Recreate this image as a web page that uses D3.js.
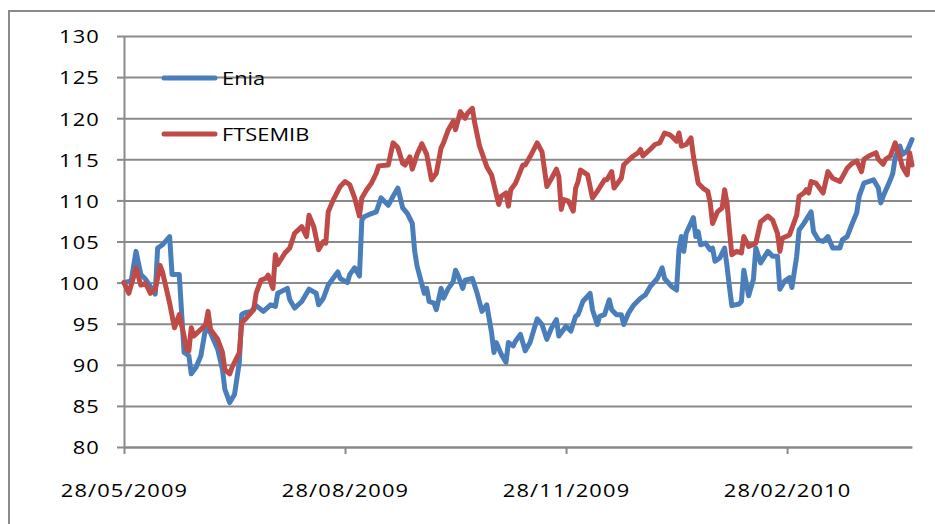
<!DOCTYPE html>
<html lang="en">
<head>
  <meta charset="UTF-8">
  <title>Enia vs FTSEMIB</title>
  <script src="https://d3js.org/d3.v7.min.js"></script>
  <style>
    body { margin: 0; background: #fff; }
    .series { fill: none; stroke-width: 5px; stroke-linejoin: round; stroke-linecap: round; }
    .grid line, .axis path, .axis line { stroke: #8a8a8a; stroke-width: 2px; }
    .grid path { display: none; }
    text { font-family: "Open Sans", sans-serif; fill: #000; }
  </style>
</head>
<body>
  <svg id="chart" width="935" height="524"></svg>

  <script>
    // Series names and colours
    const seriesNames = ["Enia", "FTSEMIB"];
    const seriesColors = ["#4a7ebb", "#be4b48"];

    // Axis ticks
    const yTicks = [80, 85, 90, 95, 100, 105, 110, 115, 120, 125, 130];
    const xTickLabels = ["28/05/2009", "28/08/2009", "28/11/2009", "28/02/2010"];
    const xDomain = ["28/05/2009", "21/04/2010"];

    // Enia
    const eniaDates = [
      "28/05/2009","31/05/2009","02/06/2009","04/06/2009","06/06/2009","08/06/2009","09/06/2009","10/06/2009","11/06/2009","13/06/2009",
      "16/06/2009","17/06/2009","20/06/2009","22/06/2009","24/06/2009","25/06/2009","27/06/2009","29/06/2009","01/07/2009","03/07/2009",
      "06/07/2009","08/07/2009","09/07/2009","11/07/2009","13/07/2009","15/07/2009","16/07/2009","17/07/2009","20/07/2009","22/07/2009",
      "25/07/2009","28/07/2009","30/07/2009","31/07/2009","04/08/2009","05/08/2009","07/08/2009","10/08/2009","13/08/2009","16/08/2009",
      "17/08/2009","19/08/2009","21/08/2009","25/08/2009","26/08/2009","29/08/2009","30/08/2009","01/09/2009","03/09/2009","04/09/2009",
      "05/09/2009","08/09/2009","10/09/2009","12/09/2009","15/09/2009","17/09/2009","19/09/2009","21/09/2009","23/09/2009","25/09/2009",
      "26/09/2009","27/09/2009","30/09/2009","01/10/2009","02/10/2009","04/10/2009","05/10/2009","07/10/2009","08/10/2009","10/10/2009",
      "12/10/2009","13/10/2009","14/10/2009","16/10/2009","17/10/2009","20/10/2009","22/10/2009","24/10/2009","26/10/2009","28/10/2009",
      "29/10/2009","30/10/2009","01/11/2009","03/11/2009","04/11/2009","06/11/2009","07/11/2009","09/11/2009","11/11/2009","13/11/2009",
      "16/11/2009","18/11/2009","20/11/2009","22/11/2009","24/11/2009","25/11/2009","28/11/2009","30/11/2009","02/12/2009","03/12/2009",
      "05/12/2009","08/12/2009","09/12/2009","11/12/2009","12/12/2009","14/12/2009","16/12/2009","17/12/2009","19/12/2009","21/12/2009",
      "22/12/2009","24/12/2009","26/12/2009","29/12/2009","31/12/2009","02/01/2010","05/01/2010","07/01/2010","08/01/2010","11/01/2010",
      "13/01/2010","14/01/2010","15/01/2010","16/01/2010","17/01/2010","20/01/2010","21/01/2010","22/01/2010","23/01/2010","25/01/2010",
      "27/01/2010","28/01/2010","29/01/2010","31/01/2010","02/02/2010","03/02/2010","04/02/2010","05/02/2010","08/02/2010","09/02/2010",
      "10/02/2010","12/02/2010","14/02/2010","15/02/2010","17/02/2010","20/02/2010","22/02/2010","24/02/2010","25/02/2010","27/02/2010",
      "01/03/2010","02/03/2010","04/03/2010","05/03/2010","07/03/2010","10/03/2010","11/03/2010","13/03/2010","15/03/2010","17/03/2010",
      "19/03/2010","22/03/2010","23/03/2010","25/03/2010","27/03/2010","29/03/2010","30/03/2010","01/04/2010","05/04/2010","07/04/2010",
      "08/04/2010","09/04/2010","12/04/2010","13/04/2010","14/04/2010","16/04/2010","17/04/2010","19/04/2010","21/04/2010"
    ];
    const eniaValues = [
      100.0, 100.2, 103.8, 101.0, 100.4, 99.5, 99.2, 98.6, 104.2, 104.6,
      105.6, 101.0, 101.0, 91.5, 91.1, 88.9, 89.7, 91.1, 94.5, 93.9,
      91.9, 89.4, 87.0, 85.4, 86.4, 90.3, 96.1, 96.3, 96.5, 97.2,
      96.5, 97.3, 97.1, 98.7, 99.3, 97.9, 96.9, 97.7, 99.2, 98.7,
      97.3, 98.1, 99.7, 101.3, 100.5, 100.0, 101.0, 101.8, 100.8, 107.6,
      108.0, 108.4, 108.6, 110.3, 109.4, 110.5, 111.5, 109.1, 108.4, 107.2,
      103.8, 102.0, 98.7, 99.3, 97.7, 97.5, 96.7, 99.3, 98.1, 99.3,
      100.1, 101.5, 100.9, 99.3, 100.3, 100.5, 98.7, 96.5, 97.3, 93.9,
      91.5, 92.7, 91.3, 90.3, 92.7, 92.3, 92.9, 93.7, 91.7, 92.7,
      95.6, 94.9, 93.1, 94.5, 95.5, 93.5, 94.7, 94.1, 95.9, 96.1,
      97.7, 98.7, 96.7, 94.9, 95.9, 96.1, 97.9, 96.7, 96.1, 96.1,
      94.9, 96.3, 97.2, 98.1, 98.5, 99.5, 100.5, 101.8, 100.5, 99.5,
      99.1, 104.0, 105.6, 103.8, 106.0, 107.9, 105.6, 106.2, 104.6, 104.8,
      104.0, 104.2, 102.6, 103.0, 104.2, 102.0, 99.5, 97.2, 97.4, 97.7,
      101.5, 98.4, 100.4, 104.2, 102.4, 103.8, 103.2, 103.2, 99.2, 100.2,
      100.6, 99.4, 103.2, 106.4, 107.2, 108.6, 106.2, 105.2, 105.0, 105.6,
      104.2, 104.2, 105.2, 105.6, 107.1, 108.5, 110.5, 112.1, 112.5, 111.5,
      109.7, 110.5, 112.5, 113.3, 115.2, 116.6, 115.6, 116.0, 117.4
    ];

    // FTSEMIB
    const ftseDates = [
      "28/05/2009","30/05/2009","01/06/2009","02/06/2009","04/06/2009","06/06/2009","08/06/2009","10/06/2009","12/06/2009","13/06/2009",
      "16/06/2009","18/06/2009","20/06/2009","22/06/2009","23/06/2009","24/06/2009","25/06/2009","26/06/2009","29/06/2009","01/07/2009",
      "02/07/2009","03/07/2009","06/07/2009","08/07/2009","09/07/2009","11/07/2009","12/07/2009","15/07/2009","16/07/2009","18/07/2009",
      "21/07/2009","22/07/2009","24/07/2009","26/07/2009","27/07/2009","29/07/2009","30/07/2009","31/07/2009","03/08/2009","05/08/2009",
      "07/08/2009","10/08/2009","12/08/2009","13/08/2009","15/08/2009","17/08/2009","19/08/2009","20/08/2009","21/08/2009","23/08/2009",
      "26/08/2009","28/08/2009","30/08/2009","01/09/2009","03/09/2009","04/09/2009","06/09/2009","08/09/2009","10/09/2009","11/09/2009",
      "15/09/2009","17/09/2009","19/09/2009","21/09/2009","22/09/2009","24/09/2009","25/09/2009","27/09/2009","29/09/2009","01/10/2009",
      "03/10/2009","05/10/2009","07/10/2009","08/10/2009","10/10/2009","12/10/2009","13/10/2009","15/10/2009","17/10/2009","18/10/2009",
      "20/10/2009","21/10/2009","23/10/2009","26/10/2009","28/10/2009","30/10/2009","31/10/2009","01/11/2009","03/11/2009","04/11/2009",
      "05/11/2009","07/11/2009","10/11/2009","11/11/2009","13/11/2009","16/11/2009","18/11/2009","20/11/2009","22/11/2009","24/11/2009",
      "25/11/2009","26/11/2009","27/11/2009","29/11/2009","01/12/2009","02/12/2009","03/12/2009","04/12/2009","05/12/2009","07/12/2009",
      "09/12/2009","11/12/2009","14/12/2009","15/12/2009","17/12/2009","18/12/2009","21/12/2009","22/12/2009","24/12/2009","26/12/2009",
      "28/12/2009","29/12/2009","30/12/2009","02/01/2010","04/01/2010","06/01/2010","08/01/2010","10/01/2010","11/01/2010","13/01/2010",
      "14/01/2010","15/01/2010","17/01/2010","19/01/2010","20/01/2010","22/01/2010","24/01/2010","26/01/2010","27/01/2010","28/01/2010",
      "30/01/2010","01/02/2010","02/02/2010","03/02/2010","04/02/2010","05/02/2010","07/02/2010","09/02/2010","10/02/2010","12/02/2010",
      "15/02/2010","17/02/2010","20/02/2010","22/02/2010","24/02/2010","25/02/2010","26/02/2010","01/03/2010","02/03/2010","04/03/2010",
      "05/03/2010","07/03/2010","08/03/2010","09/03/2010","10/03/2010","12/03/2010","15/03/2010","17/03/2010","19/03/2010","22/03/2010",
      "25/03/2010","27/03/2010","29/03/2010","31/03/2010","01/04/2010","03/04/2010","06/04/2010","07/04/2010","09/04/2010","10/04/2010",
      "12/04/2010","14/04/2010","16/04/2010","17/04/2010","19/04/2010","20/04/2010","21/04/2010"
    ];
    const ftseValues = [
      100.0, 98.7, 100.7, 101.8, 99.7, 99.9, 98.7, 99.1, 102.1, 101.3,
      97.5, 94.5, 96.1, 93.5, 91.9, 91.7, 94.5, 93.5, 94.3, 94.9,
      96.5, 94.3, 93.1, 91.5, 89.4, 88.9, 89.7, 91.5, 95.1, 95.7,
      96.7, 98.7, 100.3, 100.5, 100.9, 99.3, 103.4, 102.2, 103.6, 104.2,
      106.0, 106.8, 105.6, 108.2, 106.8, 104.0, 105.0, 104.8, 108.6, 110.0,
      111.7, 112.3, 111.9, 110.3, 108.1, 110.3, 111.3, 112.1, 113.3, 114.2,
      114.3, 117.0, 116.4, 114.5, 114.3, 115.3, 113.8, 115.6, 116.9, 115.6,
      112.5, 113.3, 116.4, 117.0, 118.6, 119.6, 118.6, 120.8, 120.0, 120.6,
      121.2, 119.4, 116.6, 114.1, 113.1, 110.7, 109.5, 110.5, 110.9, 109.3,
      111.3, 112.1, 114.3, 114.3, 115.3, 117.0, 115.9, 111.7, 112.7, 113.8,
      112.9, 108.9, 110.1, 109.9, 108.7, 111.5, 112.3, 113.7, 113.5, 113.1,
      110.3, 111.1, 112.5, 112.5, 113.5, 111.5, 112.7, 114.3, 114.9, 115.4,
      115.8, 116.2, 115.4, 116.2, 116.8, 117.0, 118.2, 118.0, 117.8, 117.2,
      118.2, 116.6, 116.8, 117.6, 115.4, 112.1, 111.5, 111.1, 109.7, 107.2,
      108.6, 109.1, 111.3, 109.7, 106.4, 103.4, 103.8, 103.6, 105.6, 104.4,
      104.8, 107.4, 108.1, 107.6, 106.0, 103.8, 105.4, 105.8, 106.6, 108.2,
      110.5, 110.9, 111.3, 110.9, 112.3, 112.1, 110.9, 113.5, 112.7, 112.3,
      113.9, 114.5, 114.8, 113.5, 115.0, 115.4, 115.8, 115.0, 114.4, 115.0,
      115.4, 117.0, 115.2, 114.1, 113.1, 115.8, 114.3
    ];

    const width = 935;
    const height = 524;
    const margin = { top: 36, right: 23, bottom: 77, left: 124 };
    const textScale = 1.15;   // the source picture is stretched sideways

    const parse = d3.timeParse("%d/%m/%Y");
    const fmt = d3.timeFormat("%d/%m/%Y");

    const svg = d3.select("#chart");

    // outer chart frame (runs off the right and bottom edge)
    svg.append("rect")
      .attr("x", 9).attr("y", 11)
      .attr("width", 940).attr("height", 530)
      .attr("fill", "none")
      .attr("stroke", "#8a8a8a")
      .attr("stroke-width", 2);

    const x = d3.scaleTime()
      .domain(xDomain.map(parse))
      .range([margin.left, width - margin.right]);

    const y = d3.scaleLinear()
      .domain([80, 130])
      .range([height - margin.bottom, margin.top]);

    // horizontal gridlines
    svg.append("g")
      .attr("class", "grid")
      .attr("transform", `translate(${margin.left}, 0)`)
      .call(d3.axisLeft(y).tickValues(yTicks).tickSize(-(width - margin.left - margin.right)).tickFormat(""));

    // y axis
    const yAxis = svg.append("g")
      .attr("class", "axis")
      .attr("transform", `translate(${margin.left}, 0)`)
      .call(d3.axisLeft(y).tickValues(yTicks).tickSize(7).tickSizeOuter(0));
    yAxis.selectAll("text")
      .attr("font-size", 19)
      .attr("font-family", "Open Sans, sans-serif")
      .attr("letter-spacing", 1)
      .attr("x", -24 / textScale)
      .attr("dy", "0.36em")
      .attr("transform", `scale(${textScale},1)`);

    // x axis
    const xAxis = svg.append("g")
      .attr("class", "axis")
      .attr("transform", `translate(0, ${height - margin.bottom})`)
      .call(d3.axisBottom(x).tickValues(xTickLabels.map(parse)).tickFormat(fmt).tickSize(7).tickSizeOuter(0));
    xAxis.selectAll("text")
      .attr("font-size", 19)
      .attr("font-family", "Open Sans, sans-serif")
      .attr("letter-spacing", 1)
      .attr("y", 50)
      .attr("dy", 0)
      .attr("transform", `scale(${textScale},1)`);

    // lines
    const line = d3.line()
      .x(d => x(d.date))
      .y(d => y(d.value));

    const series = [
      eniaDates.map((d, i) => ({ date: parse(d), value: eniaValues[i] })),
      ftseDates.map((d, i) => ({ date: parse(d), value: ftseValues[i] }))
    ];

    svg.selectAll(".series")
      .data(series)
      .join("path")
      .attr("class", "series")
      .attr("stroke", (d, i) => seriesColors[i])
      .attr("d", line);

    // legend
    const legend = svg.append("g");
    seriesNames.forEach((name, i) => {
      const ly = 78 + i * 56;
      legend.append("line")
        .attr("x1", 164).attr("x2", 215)
        .attr("y1", ly).attr("y2", ly)
        .attr("stroke", seriesColors[i])
        .attr("stroke-width", 5)
        .attr("stroke-linecap", "round");
      legend.append("text")
        .attr("transform", `translate(222, ${ly}) scale(${textScale},1)`)
        .attr("dy", "0.36em")
        .attr("font-size", 19)
        .text(name);
    });
  </script>
</body>
</html>
